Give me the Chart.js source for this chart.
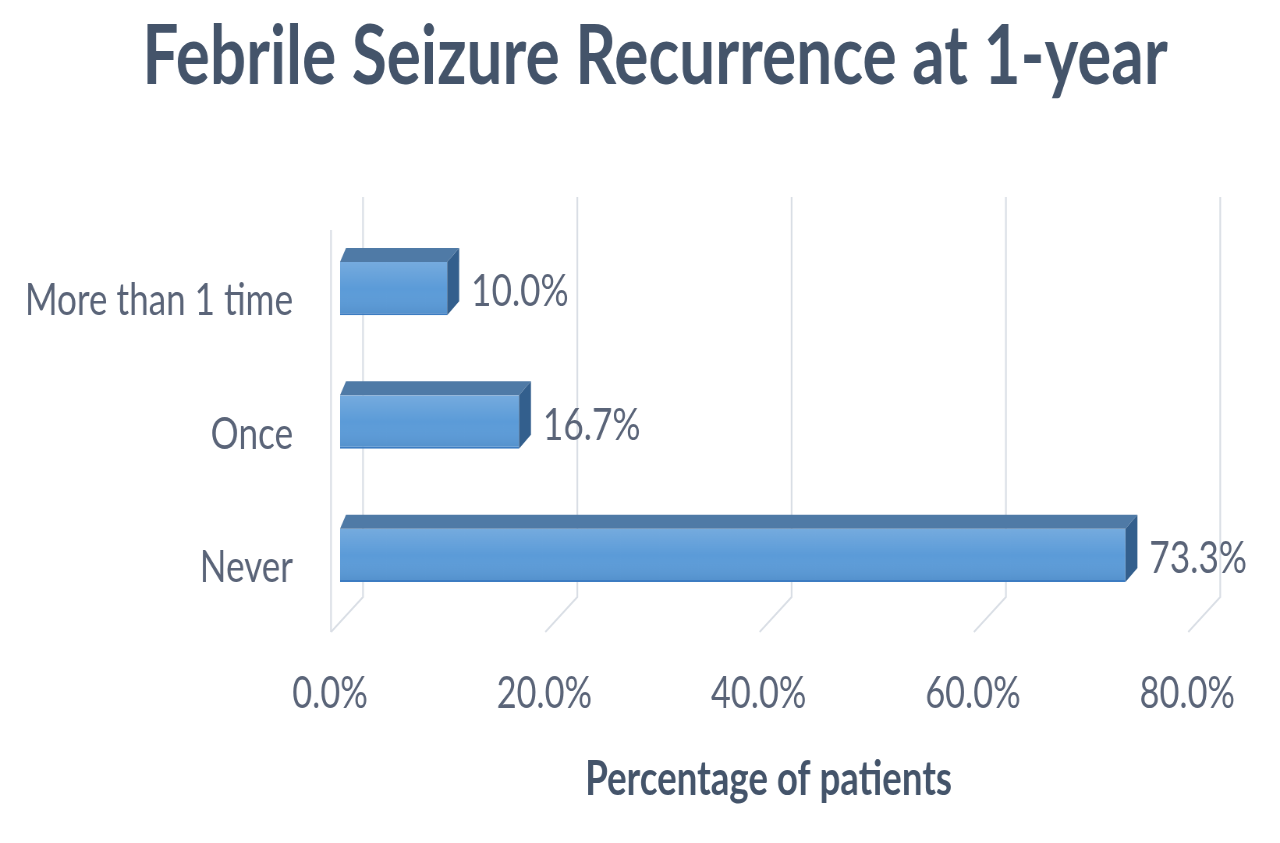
<!DOCTYPE html>
<html>
<head>
<meta charset="utf-8">
<title>Febrile Seizure Recurrence at 1-year</title>
<script src="https://cdn.jsdelivr.net/npm/chart.js@4.4.1/dist/chart.umd.min.js"></script>
<style>
  html, body { margin: 0; padding: 0; background: #fff; overflow: hidden; }
  #wrap { position: absolute; left: 0; top: 0; height: 843px; transform-origin: 0 0; }
</style>
</head>
<body>
<div id="wrap"><canvas id="chart"></canvas></div>
<script>
// Febrile seizure recurrence, horizontal 3-D style bars

const chartTitle = 'Febrile Seizure Recurrence at 1-year';
const categories = ['More than 1 time', 'Once', 'Never'];
const percentages = [10.0, 16.7, 73.3];
const xTicks = [0, 20, 40, 60, 80];

// the reference is squeezed sideways, so draw wide and compress
const SX = 0.78;
const W = 1280 / SX;
const f = v => v / SX;   // picture x -> canvas x

const wrap = document.getElementById('wrap');
wrap.style.width = W + 'px';
wrap.style.transform = 'scaleX(' + SX + ')';

const FONT = 'Lato, "Open Sans", sans-serif';
const TEXT = '#5a6478';
const DARK = '#44546a';

// bar depth and wall offsets (picture px)
const DEPTH = { dxLeft: 6, dx: 12, dy: -14 };
const BACK = { dx: 23, top: 197, bottom: 597 };
const FRONT = { dx: -9, y: 632, wallTop: 230 };

const box3d = {
    id: 'box3d',
    beforeDatasetsDraw(chart) {
        const ctx = chart.ctx;
        const x = chart.scales.x;
        ctx.save();

        // title, centred over the whole picture rather than the chart box
        ctx.fillStyle = DARK;
        ctx.font = 'bold 82px ' + FONT;
        ctx.textAlign = 'center';
        ctx.textBaseline = 'middle';
        ctx.fillText(chartTitle, f(655), 58);

        ctx.strokeStyle = '#d9dee5';
        ctx.lineWidth = 2.2;
        xTicks.forEach(v => {
            const px = x.getPixelForValue(v);
            ctx.beginPath();
            ctx.moveTo(px + f(BACK.dx), BACK.top);
            ctx.lineTo(px + f(BACK.dx), BACK.bottom);
            ctx.lineTo(px + f(FRONT.dx), FRONT.y);
            ctx.stroke();
        });
        const p0 = x.getPixelForValue(0) + f(FRONT.dx);
        ctx.beginPath();
        ctx.moveTo(p0, FRONT.wallTop);
        ctx.lineTo(p0, FRONT.y);
        ctx.stroke();
        ctx.restore();
    },
    afterDatasetsDraw(chart) {
        const ctx = chart.ctx;
        const meta = chart.getDatasetMeta(0);
        const ddx = f(DEPTH.dx), ddl = f(DEPTH.dxLeft), ddy = DEPTH.dy;
        ctx.save();
        meta.data.forEach((bar, i) => {
            const top = bar.y - bar.height / 2;
            const bottom = bar.y + bar.height / 2;
            const left = bar.base;
            const right = bar.x;

            // shading on the front face
            const g = ctx.createLinearGradient(0, top, 0, bottom);
            g.addColorStop(0, 'rgba(255,255,255,0.16)');
            g.addColorStop(0.5, 'rgba(255,255,255,0.0)');
            g.addColorStop(1, 'rgba(0,40,90,0.10)');
            ctx.fillStyle = g;
            ctx.fillRect(left, top, right - left, bottom - top - 2);

            // top face
            ctx.fillStyle = '#4f7aa6';
            ctx.beginPath();
            ctx.moveTo(left, top);
            ctx.lineTo(left + ddl, top + ddy);
            ctx.lineTo(right + ddx, top + ddy);
            ctx.lineTo(right, top);
            ctx.closePath();
            ctx.fill();

            // side face
            ctx.fillStyle = '#335f8d';
            ctx.beginPath();
            ctx.moveTo(right, top);
            ctx.lineTo(right + ddx, top + ddy);
            ctx.lineTo(right + ddx, bottom + ddy);
            ctx.lineTo(right, bottom);
            ctx.closePath();
            ctx.fill();

            // value label
            ctx.fillStyle = TEXT;
            ctx.font = '45px ' + FONT;
            ctx.textAlign = 'left';
            ctx.textBaseline = 'middle';
            ctx.fillText(percentages[i].toFixed(1) + '%', right + ddx + f(12), bar.y + 3);
        });
        ctx.restore();
    }
};

new Chart(document.getElementById('chart'), {
    type: 'bar',
    data: {
        labels: categories,
        datasets: [{
            data: percentages,
            backgroundColor: '#5b9bd8',
            borderColor: '#3c7cc2',
            borderWidth: { top: 0, right: 0, bottom: 2, left: 0 },
            borderSkipped: false,
            barPercentage: 0.4,
            categoryPercentage: 1.0
        }]
    },
    plugins: [box3d],
    options: {
        indexAxis: 'y',
        responsive: true,
        maintainAspectRatio: false,
        animation: false,
        layout: { padding: { left: 0, right: W - f(1200), top: 222, bottom: 35 } },
        plugins: {
            legend: { display: false },
            tooltip: { enabled: false },
            title: { display: false }
        },
        scales: {
            x: {
                min: 0,
                max: 80,
                afterFit(scale) { scale.height = 843 - 35 - 622; },
                ticks: {
                    stepSize: 20,
                    color: TEXT,
                    font: { family: FONT, size: 44 },
                    padding: 45,
                    labelOffset: f(-10),
                    callback: v => v.toFixed(1) + '%'
                },
                grid: { display: false, drawTicks: false },
                border: { display: false },
                title: {
                    display: true,
                    text: 'Percentage of patients',
                    color: DARK,
                    font: { family: FONT, size: 47, weight: 'bold' },
                    padding: { top: 32, bottom: 0 }
                }
            },
            y: {
                afterFit(scale) { scale.width = f(340); },
                ticks: {
                    color: TEXT,
                    font: { family: FONT, size: 45 },
                    padding: f(47),
                    labelOffset: 12
                },
                grid: { display: false, drawTicks: false },
                border: { display: false }
            }
        }
    }
});
</script>
</body>
</html>
